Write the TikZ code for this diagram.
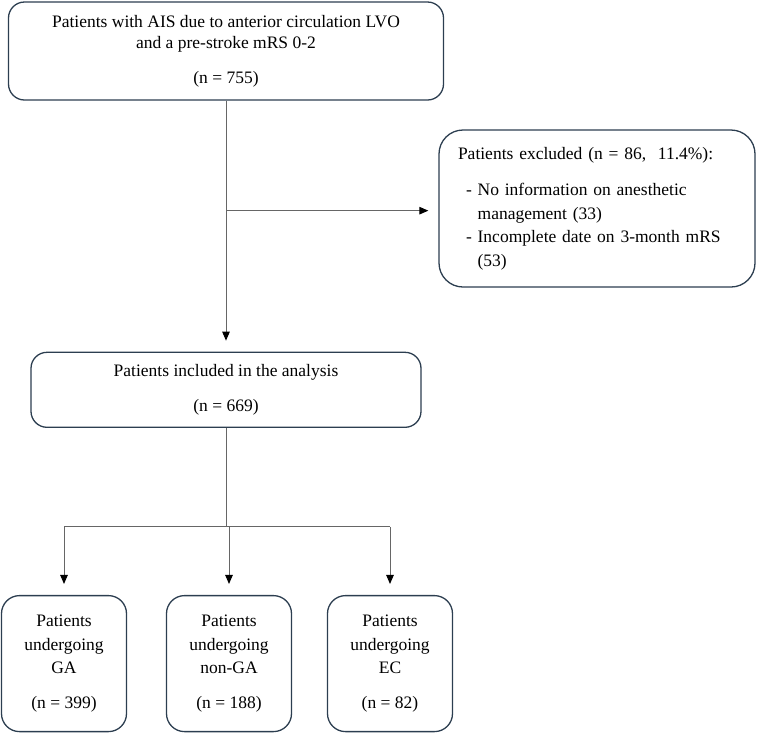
\documentclass[tikz,border=0pt]{standalone}
\usepackage{fontspec}
\setmainfont{Liberation Serif}
\usetikzlibrary{arrows.meta, positioning}
\definecolor{boxline}{HTML}{2C3E50}
\definecolor{linkgray}{HTML}{666666}

\begin{document}
\begin{tikzpicture}[
    box/.style={draw=boxline, line width=1.3pt, rounded corners=16pt, align=center,
                inner sep=0pt, font=\fontsize{17.5}{21}\selectfont},
    groupbox/.style={box, minimum width=125pt, minimum height=136pt, rounded corners=18pt,
                     font=\fontsize{17.5}{23.5}\selectfont},
    exclbox/.style={box, rounded corners=24pt, align=left, text width=278pt, inner xsep=19pt,
                    minimum height=157pt, font=\fontsize{17.5}{23.5}\selectfont},
    link/.style={draw=linkgray, line width=1pt},
    arrow/.style={link, -{Triangle[length=9pt, width=7.5pt, color=black]}},
    node distance=251pt and 40pt
]
\useasboundingbox (0,0) rectangle (757pt,-732pt);

\node[box, minimum width=435pt, minimum height=98pt] (top) at (226pt,-51pt)
    {Patients with AIS due to anterior circulation LVO\\and a pre-stroke mRS 0-2\\[14pt](n = 755)};
\node[box, minimum width=390pt, minimum height=75pt, below=of top] (incl)
    {Patients included in the analysis\\[14pt](n = 669)};
\node[exclbox] (excl) at (597pt,-208.5pt)
    {Patients excluded (n = 86,~~11.4\%):\\[13pt]
     \hspace*{8pt}- No information on anesthetic\\
     \hspace*{8pt}\phantom{- }management (33)\\
     \hspace*{8pt}- Incomplete date on 3-month mRS\\
     \hspace*{8pt}\phantom{- }(53)};

\node[groupbox, below=167pt of incl, xshift=-162pt] (ga) {Patients\\undergoing\\GA\\[11.5pt](n = 399)};
\node[groupbox, below=167pt of incl, xshift=3pt] (nonga) {Patients\\undergoing\\non-GA\\[11.5pt](n = 188)};
\node[groupbox, below=167pt of incl, xshift=164pt] (ec) {Patients\\undergoing\\EC\\[11.5pt](n = 82)};

% exclusion branch
\coordinate[below=110pt of top.south] (split);
\draw[arrow, shorten >=11pt] (top) -- (incl);
\draw[arrow, shorten >=10pt] (split) -- (split -| excl.west);

% split into the three groups
\coordinate[below=99pt of incl.south] (fork);
\draw[link] (incl) -- (fork);
\draw[link] (fork -| ga) -- (fork -| ec);
\foreach \grp in {ga, nonga, ec}
    \draw[arrow, shorten >=11pt] (fork -| \grp) -- (\grp);
\end{tikzpicture}
\end{document}
